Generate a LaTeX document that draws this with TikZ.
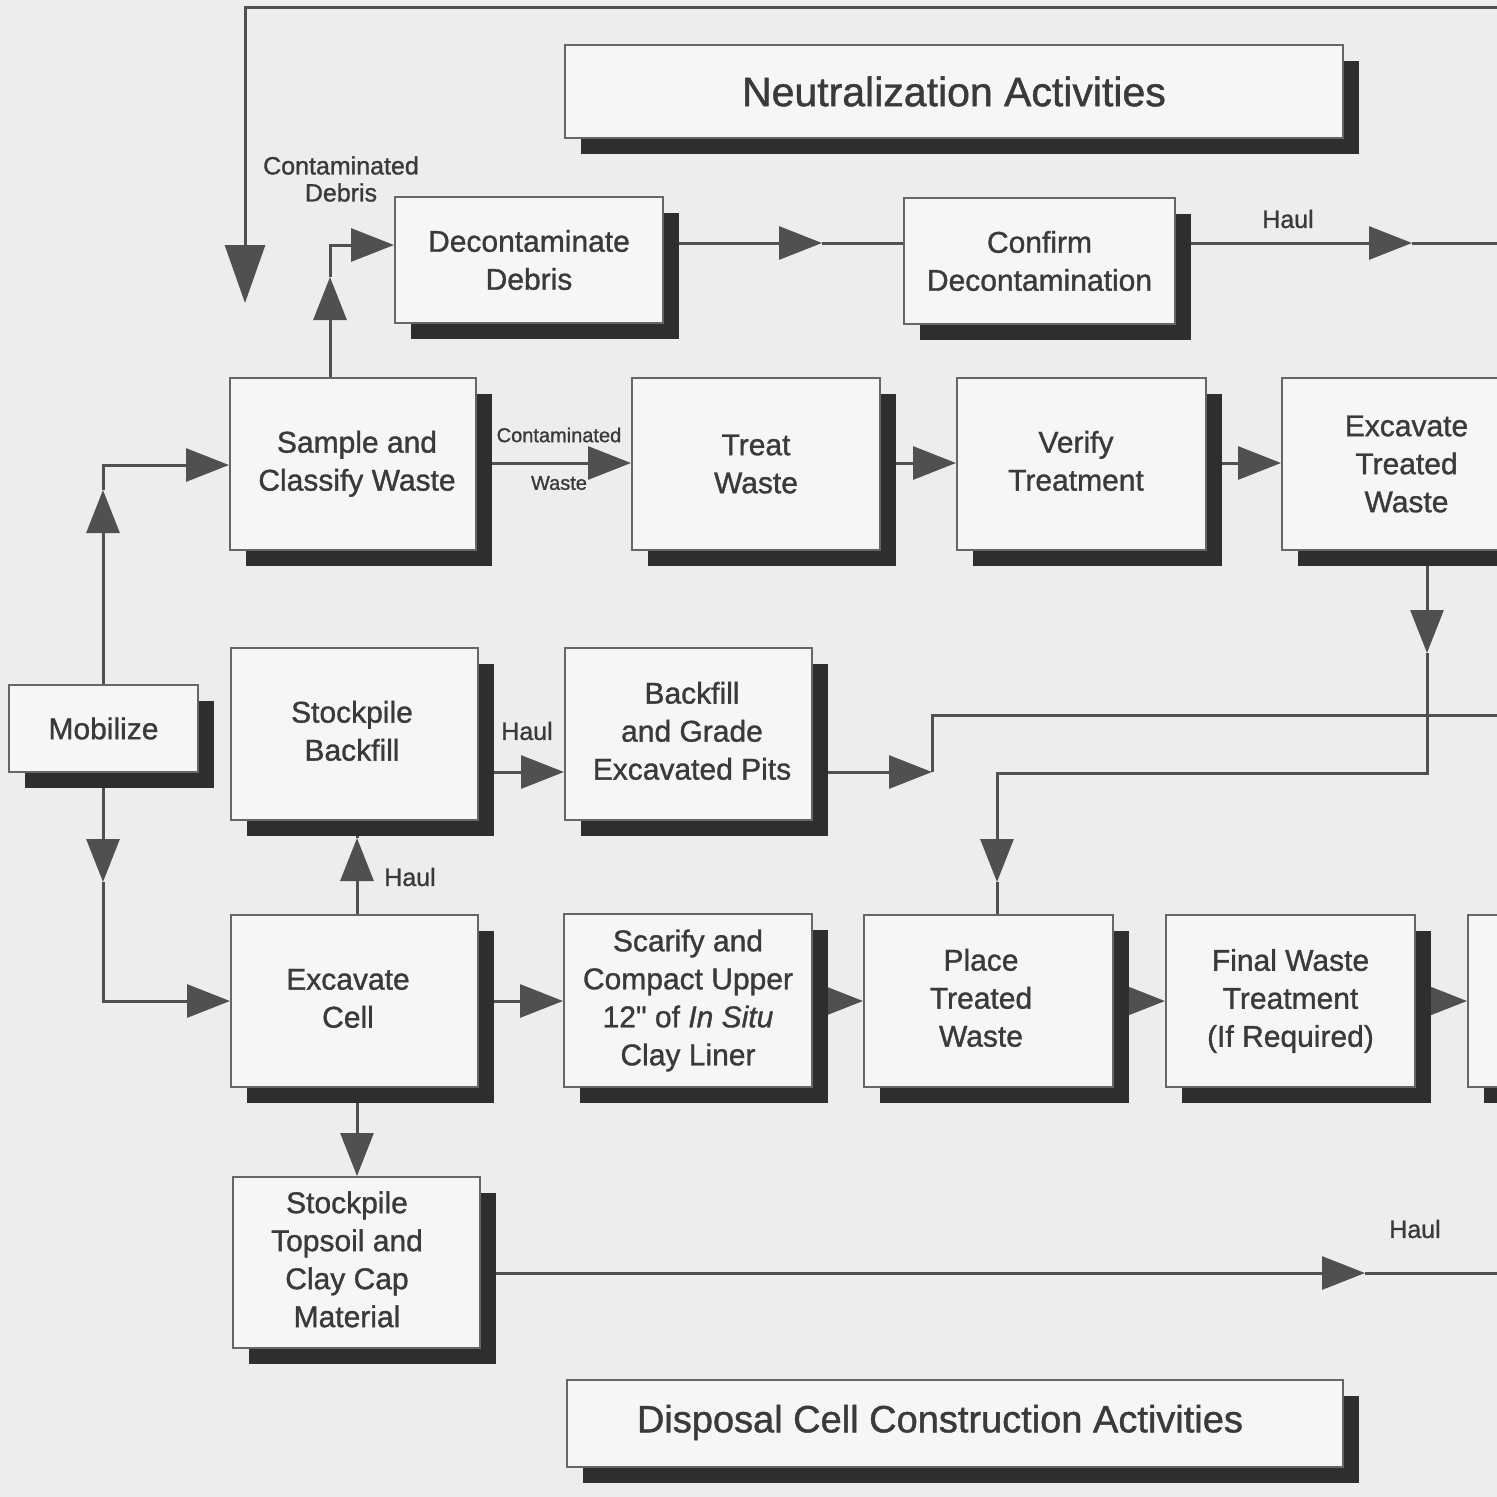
\documentclass[tikz,border=0pt]{standalone}
\usepackage{fontspec}
\setmainfont{Liberation Sans}[FakeBold=1.1]
\usetikzlibrary{arrows.meta,shadows}
\pgfdeclarelayer{background}
\pgfsetlayers{background,main}
\definecolor{bgc}{HTML}{EDEDED}
\definecolor{boxc}{HTML}{F6F6F6}
\definecolor{shadc}{HTML}{2E2E2E}
\definecolor{linec}{HTML}{505050}
\definecolor{textc}{HTML}{3A3A3A}
\definecolor{edgec}{HTML}{666666}
% text block shifted left by half of #2
\newcommand{\mlines}[2]{\begin{tabular}{@{}c@{}}#1\end{tabular}\kern#2}
\begin{document}
\begin{tikzpicture}[x=1pt,y=-1pt,
  box/.style={draw=edgec, line width=2pt, fill=boxc, text=textc, align=center,
    inner sep=0pt, minimum width=247pt, minimum height=172pt,
    font=\fontsize{30pt}{38pt}\selectfont,
    general shadow={shadow xshift=16pt, shadow yshift=-16pt, fill=shadc, draw=none}},
  title/.style={box, font=\fontsize{41pt}{48pt}\selectfont},
  conn/.style={draw=linec, line width=3pt},
  tipped/.style={-{Triangle[length=43pt,width=33pt]}},
  lbl/.style={text=textc, align=center, inner sep=0pt, font=\fontsize{25pt}{27pt}\selectfont},
  slbl/.style={text=textc, align=center, inner sep=0pt, font=\fontsize{20pt}{22pt}\selectfont}]
\useasboundingbox (0,0) rectangle (1497,1497);

% boxes
\node[title, minimum width=778pt, minimum height=93pt] (neut) at (954,91.5) {Neutralization Activities};
\node[box, minimum width=268pt, minimum height=126pt] (decon) at (529,260) {Decontaminate\\Debris};
\node[box, minimum width=271pt, minimum height=126pt] (confirm) at (1039.5,261) {Confirm\\Decontamination};
\node[box, minimum width=246pt] (sample) at (353,464) {\mlines{Sample and\\Classify Waste}{-8pt}};
\node[box, minimum width=248pt] (treat) at (756,464) {Treat\\Waste};
\node[box, minimum width=249pt] (verify) at (1081.5,464) {\mlines{Verify\\Treatment}{11pt}};
\node[box, minimum width=249pt] (exctw) at (1406.5,464) {Excavate\\Treated\\Waste};
\node[box, minimum width=189pt, minimum height=87pt] (mob) at (103.5,728.5) {Mobilize};
\node[box] (stockb) at (354.5,734) {\mlines{Stockpile\\Backfill}{5pt}};
\node[box] (backfill) at (688.5,734) {\mlines{Backfill\\and Grade\\Excavated Pits}{-7pt}};
\node[box] (exccell) at (354.5,1001) {\mlines{Excavate\\Cell}{13pt}};
\node[box, minimum width=248pt, minimum height=173pt] (scarify) at (688,1000.5) {Scarify and\\Compact Upper\\12\textquotedbl{} of \textit{In Situ}\\Clay Liner};
\node[box, minimum width=249pt] (place) at (988.5,1001) {\mlines{Place\\Treated\\Waste}{15pt}};
\node[box, minimum width=249pt] (final) at (1290.5,1001) {Final Waste\\Treatment\\(If Required)};
\node[box, minimum width=249pt] (partial) at (1592.5,1001) {};
\node[box, minimum height=171pt] (topsoil) at (356.5,1262.5) {\mlines{Stockpile\\Topsoil and\\Clay Cap\\Material}{19pt}};
\node[title, minimum width=776pt, minimum height=87pt, font=\fontsize{38pt}{44pt}\selectfont] (disp) at (955,1423.5) {\mlines{Disposal Cell Construction Activities}{30pt}};

% labels
\node[lbl] (lcd) at (341,179) {Contaminated\\Debris};
\node[lbl] (lh1) at (1288,219) {Haul};
\node[slbl] (lcw1) at (559,435) {Contaminated};
\node[slbl] (lcw2) at (559,483) {Waste};
\node[lbl] (lh2) at (527,731) {Haul};
\node[lbl] (lh3) at (410,877) {Haul};
\node[lbl] (lh4) at (1415,1229) {Haul};

% coordinates
\coordinate (topR) at (1520,7);
\coordinate (topL) at (245,7);
\coordinate (cdTip) at (245,303);
\coordinate (bUp) at (330,277);
\coordinate (bCorner) at (330,245);
\coordinate (cY) at (0,243);
\coordinate (cTip) at (822,243);
\coordinate (dTip) at (1412,243);
\coordinate (dEnd) at (1520,243);
\coordinate (eY) at (0,463);
\coordinate (hX) at (1427,0);
\coordinate (hTip) at (1427,653);
\coordinate (hC1) at (1427,773);
\coordinate (hC2) at (997,773);
\coordinate (hTip2) at (997,882);
\coordinate (iY) at (0,772);
\coordinate (iTip) at (932,772);
\coordinate (iC) at (932,715);
\coordinate (iEnd) at (1520,715);
\coordinate (kX) at (357,0);
\coordinate (kTip) at (357,838);
\coordinate (mX) at (103,0);
\coordinate (mTip) at (103,490);
\coordinate (mC) at (103,465);
\coordinate (nTip) at (103,882);
\coordinate (nC) at (103,1001);
\coordinate (oY) at (0,1001);
\coordinate (sY) at (0,1273);
\coordinate (sTip) at (1365,1273);
\coordinate (sEnd) at (1520,1273);

\begin{pgfonlayer}{background}
\fill[bgc] (0,0) rectangle (1497,1497);
% top loop
\draw[conn,-{Triangle[length=58pt,width=40pt]}] (topR) -- (topL) -- (cdTip);
% sample -> decon
\draw[conn,tipped] (sample.north -| bCorner) -- (bUp);
\draw[conn,tipped] (bUp) -- (bCorner) -- (decon.west |- bCorner);
% decon -> confirm
\draw[conn,tipped] (decon.east |- cY) -- (cTip);
\draw[conn] (cTip) -- (confirm.west |- cY);
% confirm -> haul
\draw[conn,tipped] (confirm.east |- cY) -- (dTip);
\draw[conn] (dTip) -- (dEnd);
% row 2
\draw[conn,tipped] (sample.east |- eY) -- (treat.west |- eY);
\draw[conn,tipped] (treat.east |- eY) -- (verify.west |- eY);
\draw[conn,tipped] (verify.east |- eY) -- (exctw.west |- eY);
% excavate treated -> place
\draw[conn,tipped] (exctw.south -| hX) -- (hTip);
\draw[conn,tipped] (hTip) -- (hC1) -- (hC2) -- (hTip2);
\draw[conn] (hTip2) -- (place.north -| hC2);
% backfill -> right
\draw[conn,tipped] (backfill.east |- iY) -- (iTip);
\draw[conn] (iTip) -- (iC) -- (iEnd);
% stockpile backfill -> backfill
\draw[conn,tipped] (stockb.east |- iY) -- (backfill.west |- iY);
% excavate cell -> stockpile backfill
\draw[conn,tipped] (exccell.north -| kX) -- (kTip);
\draw[conn] (kTip) -- (stockb.south -| kX);
% excavate cell -> topsoil
\draw[conn,tipped] (exccell.south -| kX) -- (topsoil.north -| kX);
% mobilize
\draw[conn,tipped] (mob.north -| mX) -- (mTip);
\draw[conn,tipped] (mTip) -- (mC) -- (sample.west |- mC);
\draw[conn,tipped] (mob.south -| mX) -- (nTip);
\draw[conn,tipped] (nTip) -- (nC) -- (exccell.west |- nC);
% bottom row
\draw[conn,tipped] (exccell.east |- oY) -- (scarify.west |- oY);
\draw[conn,tipped] (scarify.east |- oY) -- (place.west |- oY);
\draw[conn,tipped] (place.east |- oY) -- (final.west |- oY);
\draw[conn,tipped] (final.east |- oY) -- (partial.west |- oY);
% topsoil -> haul
\draw[conn,tipped] (topsoil.east |- sY) -- (sTip);
\draw[conn] (sTip) -- (sEnd);
\end{pgfonlayer}
\end{tikzpicture}
\end{document}
